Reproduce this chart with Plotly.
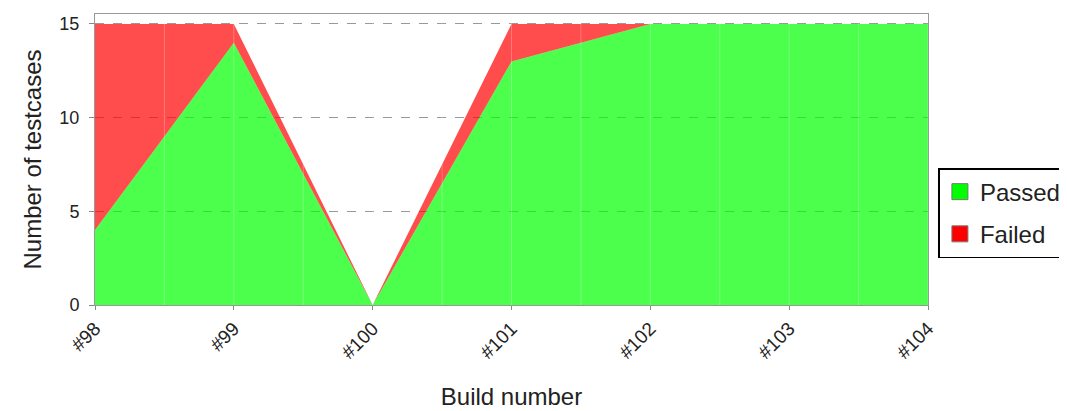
import plotly.graph_objects as go

builds = ["#98", "#99", "#100", "#101", "#102", "#103", "#104"]
passed = [4, 14, 0, 13, 15, 15, 15]
failed = [11, 1, 0, 2, 0, 0, 0]

FONT = "Liberation Sans"

fig = go.Figure()
fig.add_trace(go.Scatter(
    x=builds, y=passed, name="Passed", stackgroup="one", mode="lines",
    line=dict(width=0, color="#00ff00"), fillcolor="rgba(0,255,0,0.7)",
    showlegend=False,
))
fig.add_trace(go.Scatter(
    x=builds, y=failed, name="Failed", stackgroup="one", mode="lines",
    line=dict(width=0, color="#ff0000"), fillcolor="rgba(255,0,0,0.7)",
    showlegend=False,
))
# legend entries with square swatches
for name, col in [("Passed", "#00ff00"), ("Failed", "#ff0000")]:
    fig.add_trace(go.Scatter(
        x=[None], y=[None], name=name, mode="markers", legendgroup=name,
        marker=dict(symbol="square", size=17, color=col,
                    line=dict(color="#777777", width=1)),
    ))

fig.update_layout(
    width=1067, height=411,
    margin=dict(l=87, r=147, t=6, b=114),
    paper_bgcolor="white", plot_bgcolor="white",
    font=dict(family=FONT, color="#333333", size=18),
    showlegend=True,
    legend=dict(
        x=1.0125, xanchor="left", y=0.316, yanchor="middle",
        bordercolor="black", borderwidth=1.5, bgcolor="white",
        font=dict(size=24, color="#222222"), traceorder="grouped",
        itemwidth=30, tracegroupgap=8,
    ),
    xaxis=dict(
        type="category", range=[0, 6],
        tickangle=-45, ticks="outside", ticklen=4, tickcolor="#888888",
        showgrid=False,
        showline=True, linecolor="#999999", mirror=True,
        title=dict(text="Build number", font=dict(size=24, color="#222222"), standoff=26),
        tickfont=dict(size=19, color="#222222"),
    ),
    yaxis=dict(
        range=[0, 15.53], tickvals=[0, 5, 10, 15],
        ticks="outside", ticklen=5, tickcolor="#888888",
        ticklabelstandoff=6,
        showgrid=True, gridcolor="#999999", griddash="dash", gridwidth=1,
        showline=True, linecolor="#999999", mirror=True,
        zeroline=False,
        title=dict(text="Number of testcases", font=dict(size=24, color="#222222"), standoff=10),
        tickfont=dict(size=18, color="#222222"),
    ),
)

# faint vertical gridlines at half-category steps
for i in range(1, 13):
    fig.add_shape(type="line", xref="x", yref="paper", x0=i / 2, x1=i / 2, y0=0, y1=1,
                  line=dict(color="rgba(255,255,255,0.25)", width=1), layer="above")

fig.write_html("out.html")
